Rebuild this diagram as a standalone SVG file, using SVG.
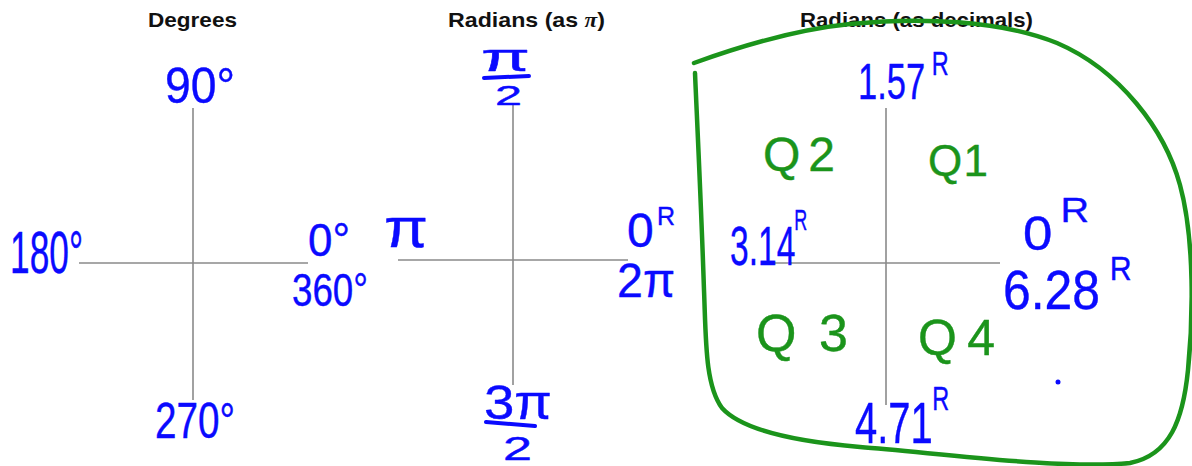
<svg xmlns="http://www.w3.org/2000/svg" width="1192" height="466" viewBox="0 0 1192 466">
<style>
.title{font-family:"Liberation Sans",Arial,sans-serif;font-weight:bold;font-size:21px;fill:#111;}
.axis{stroke:#8a8a8a;stroke-width:1.6;fill:none;}
.b{font-family:"Liberation Sans",Arial,sans-serif;fill:#0a0aff;stroke:#0a0aff;stroke-width:0.4;stroke-linejoin:round;}
.g{font-family:"Liberation Sans",Arial,sans-serif;fill:#1b941b;stroke:#1b941b;stroke-width:0.4;stroke-linejoin:round;}
.bar{stroke:#0a0aff;stroke-width:4;stroke-linecap:round;fill:none;}
</style>
<rect width="1192" height="466" fill="#fff"/>

<g id="degrees">
  <text class="title" x="148" y="27" textLength="89" lengthAdjust="spacingAndGlyphs">Degrees</text>
  <line class="axis" x1="193" y1="108" x2="193" y2="400"/>
  <line class="axis" x1="79" y1="263" x2="308" y2="263"/>
  <text class="b" x="165" y="103" font-size="50" textLength="70" lengthAdjust="spacingAndGlyphs">90°</text>
  <text class="b" x="10" y="273" font-size="60" textLength="73" lengthAdjust="spacingAndGlyphs">180°</text>
  <text class="b" x="308" y="256" font-size="47" textLength="42" lengthAdjust="spacingAndGlyphs">0°</text>
  <text class="b" x="292" y="306" font-size="46" textLength="76" lengthAdjust="spacingAndGlyphs">360°</text>
  <text class="b" x="155" y="438" font-size="50" textLength="80" lengthAdjust="spacingAndGlyphs">270°</text>
</g>

<g id="radians-pi">
  <text class="title" x="448" y="27" textLength="157" lengthAdjust="spacingAndGlyphs">Radians (as <tspan font-family="Liberation Serif,serif" font-style="italic">π</tspan>)</text>
  <line class="axis" x1="513" y1="105" x2="513" y2="385"/>
  <line class="axis" x1="398" y1="260" x2="628" y2="260"/>
  <text class="b" x="481" y="71" font-size="38" textLength="49" lengthAdjust="spacingAndGlyphs">π</text>
  <line class="bar" x1="484" y1="78" x2="529" y2="76"/>
  <text class="b" x="495" y="105" font-size="28" textLength="27" lengthAdjust="spacingAndGlyphs">2</text>
  <text class="b" x="384" y="247" font-size="56" textLength="44" lengthAdjust="spacingAndGlyphs">π</text>
  <text class="b" transform="translate(627,247)" x="0" y="0" font-size="48">0<tspan x="30" y="-22" font-size="25">R</tspan></text>
  <text class="b" x="617" y="297" font-size="48" textLength="58" lengthAdjust="spacingAndGlyphs">2π</text>
  <text class="b" x="484" y="419" font-size="48" textLength="68" lengthAdjust="spacingAndGlyphs">3π</text>
  <line class="bar" x1="486" y1="422" x2="535" y2="426"/>
  <text class="b" x="503" y="460" font-size="33" textLength="29" lengthAdjust="spacingAndGlyphs">2</text>
</g>

<g id="radians-decimal">
  <text class="title" x="800" y="27" textLength="233" lengthAdjust="spacingAndGlyphs">Radians (as decimals)</text>
  <line class="axis" x1="886" y1="108" x2="886" y2="405"/>
  <line class="axis" x1="771" y1="263" x2="1000" y2="263"/>
  <path d="M694,63 C730,50 790,30 850,24 C920,17 1000,20 1057,43 C1120,70 1165,130 1180,185 C1195,240 1193,320 1188,370 C1183,420 1170,455 1130,463 C1060,470 930,452 860,447 C790,441 740,428 722,408 C705,385 706,340 704,290 C701,200 697,120 695,73" fill="none" stroke="#1b941b" stroke-width="4.5" stroke-linecap="round" stroke-linejoin="round"/>
  <text class="b" transform="translate(858,99) scale(0.69,1)" x="0" y="0" font-size="50">1.57<tspan x="107" y="-24" font-size="34">R</tspan></text>
  <text class="b" transform="translate(730,265) scale(0.6,1)" x="0" y="0" font-size="56">3.14<tspan x="107" y="-35" font-size="30">R</tspan></text>
  <text class="b" transform="translate(1023,250) scale(1.1,1)" x="0" y="0" font-size="48">0<tspan x="34" y="-28" font-size="36">R</tspan></text>
  <text class="b" transform="translate(1003,309) scale(0.89,1)" x="0" y="0" font-size="56">6.28<tspan x="120" y="-29" font-size="34">R</tspan></text>
  <text class="b" transform="translate(855,443) scale(0.69,1)" x="0" y="0" font-size="58">4.71<tspan x="112" y="-33" font-size="34">R</tspan></text>
  <circle cx="1058" cy="382" r="2.5" fill="#0a0aff"/>
  <text class="g" x="763" y="171" font-size="48" textLength="72" lengthAdjust="spacing">Q2</text>
  <text class="g" x="928" y="176" font-size="44" textLength="60" lengthAdjust="spacing">Q1</text>
  <text class="g" x="756" y="351" font-size="52" textLength="92" lengthAdjust="spacing">Q3</text>
  <text class="g" x="918" y="355" font-size="50" textLength="77" lengthAdjust="spacing">Q4</text>
</g>
</svg>
